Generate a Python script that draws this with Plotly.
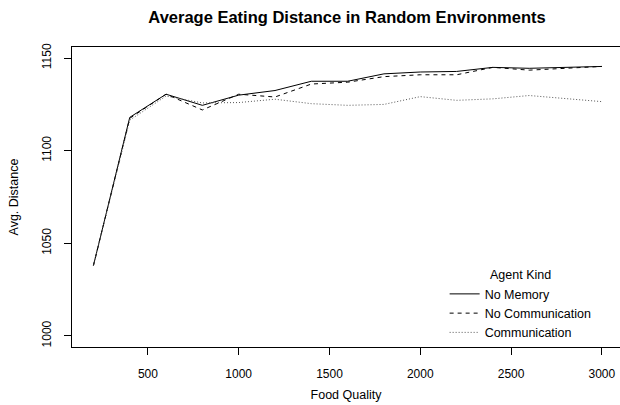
import plotly.graph_objects as go

food_quality = [200, 400, 600, 800, 1000, 1200, 1400, 1600, 1800, 2000, 2200, 2400, 2600, 2800, 3000]
no_memory = [1038, 1118, 1130.5, 1124.5, 1130, 1132.5, 1137.5, 1137.5, 1141.5, 1142.5, 1142.8, 1145, 1144.5, 1144.8, 1145.5]
no_communication = [1038, 1117.5, 1130.5, 1122, 1130.5, 1129, 1136, 1137, 1140, 1141, 1141, 1145, 1143.5, 1144.3, 1145.5]
communication = [1038, 1116.5, 1129.5, 1125.8, 1126, 1127.8, 1125.4, 1124.5, 1125, 1129.2, 1127.2, 1128, 1129.8, 1128, 1126.5]

series_names = ["No Memory", "No Communication", "Communication"]
x_ticks = [500, 1000, 1500, 2000, 2500, 3000]
y_ticks = [1000, 1050, 1100, 1150]

FONT = "Liberation Sans, Arial, Helvetica, sans-serif"

fig = go.Figure()
fig.add_trace(go.Scatter(x=food_quality, y=no_memory, mode="lines", name=series_names[0],
                         line=dict(color="black", width=1, dash="solid")))
fig.add_trace(go.Scatter(x=food_quality, y=no_communication, mode="lines", name=series_names[1],
                         line=dict(color="black", width=1, dash="4px,4px")))
fig.add_trace(go.Scatter(x=food_quality, y=communication, mode="lines", name=series_names[2],
                         line=dict(color="#555555", width=1, dash="1px,2px")))

fig.update_layout(
    width=620, height=405,
    margin=dict(l=72, r=0, t=47, b=58, autoexpand=False),
    paper_bgcolor="white", plot_bgcolor="white",
    font=dict(family=FONT, size=12, color="black"),
    title=dict(text="<b>Average Eating Distance in Random Environments</b>",
               font=dict(size=16.5, family=FONT, color="black"),
               x=347 / 620, xanchor="center", xref="container",
               y=1 - 17 / 405, yanchor="middle", yref="container"),
    showlegend=True,
    legend=dict(title=dict(text="Agent Kind", side="top center", font=dict(size=12.5)),
                x=0.68, y=0.28, xanchor="left", yanchor="top",
                bgcolor="rgba(0,0,0,0)", borderwidth=0,
                font=dict(size=12.5), itemwidth=30, tracegroupgap=0),
)

fig.update_xaxes(range=[82, 3100], tickvals=x_ticks, ticktext=[str(v) for v in x_ticks],
                 showgrid=False, zeroline=False, showline=True, linecolor="black", linewidth=1,
                 mirror=True, ticks="outside", ticklen=7, tickcolor="black", tickwidth=1,
                 ticklabelstandoff=9,
                 title=dict(text="Food Quality", font=dict(size=12.5), standoff=9))
fig.update_yaxes(range=[994, 1156], tickvals=y_ticks, ticktext=[str(v) for v in y_ticks],
                 tickangle=-90,
                 showgrid=False, zeroline=False, showline=True, linecolor="black", linewidth=1,
                 mirror=False, ticks="outside", ticklen=7, tickcolor="black", tickwidth=1,
                 ticklabelstandoff=8,
                 title=dict(text="Avg. Distance", font=dict(size=12.5), standoff=18))

fig.write_html("out.html", config={"displayModeBar": False},
               post_script="document.body.style.margin='0';document.body.style.overflow='hidden';")
